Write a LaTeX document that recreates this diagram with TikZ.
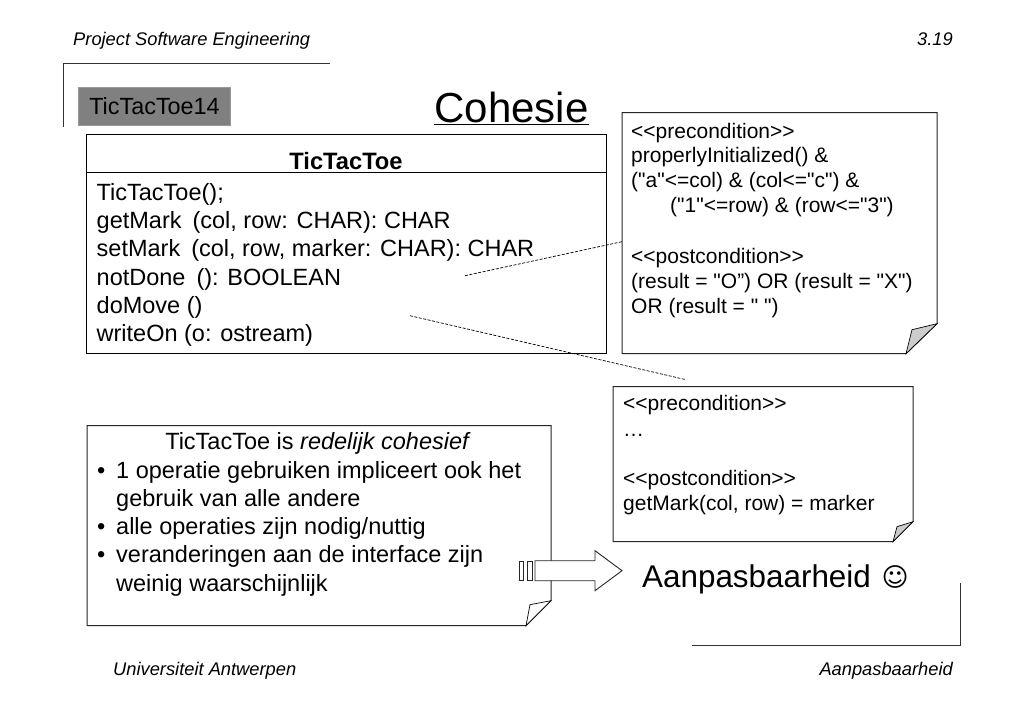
\documentclass[tikz,border=0pt]{standalone}
\usepackage{fontspec}
\usepackage{tikz}
\setmainfont{Liberation Sans}
\newfontfamily\notefont{Liberation Sans}
\newfontfamily\symbfont{DejaVu Sans}
\tikzset{%
	line/.style = {anchor=base west,inner sep=0,font=\fontsize{23.5}{28}\selectfont},
	noteline/.style = {anchor=base west,inner sep=0,font=\notefont\fontsize{21}{25}\selectfont},
	foot/.style = {inner sep=0,font=\fontsize{18.3}{22}\selectfont\itshape},
	frameline/.style = {draw=black!80,line width=.9},
	notebox/.style = {draw=black!85,fill=white,line width=1},
	fold/.style = {draw=black,fill=#1,line width=.7},
	link/.style = {draw=black,dash pattern=on 3pt off 1.5pt,line width=.7},
	bigarrow/.style = {draw=black!85,fill=white,line width=.9}%
}

\begin{document}
\begin{tikzpicture}[x=1pt,y=-1pt]
		\useasboundingbox(0,-.7)rectangle(1023,707.3);
		
		\draw[frameline](330,63)--(63,63)--(63,126);
		\draw[frameline](692,645)--(960,645)--(960,582);
		\node(head)[foot,anchor=base west]at(73,45){Project Software Engineering};
		\node(page)[foot,anchor=base east]at(953,45){3.19};
		\node(uni)[foot,anchor=base west]at(113,675){Universiteit Antwerpen};
		\node(topic)[foot,anchor=base east]at(953,675){Aanpasbaarheid};
		
		\node(version)[fill=black!50,draw=black!40,minimum width=152,minimum height=38,inner sep=0,font=\fontsize{23.4}{28}\selectfont]at(154.5,105.5){TicTacToe14};
		\node(title)[anchor=base,inner sep=0,font=\fontsize{42}{48}\selectfont]at(511.5,122){\underline{Cohesie}};
		
		% class
		\draw[draw=black,line width=1](86.5,134)rectangle(606,353);
		\draw[draw=black,line width=1](86.5,172)--(606,172);
		\node(class)[anchor=base,inner sep=0,font=\fontsize{23.7}{28}\selectfont\bfseries]at(346,169){TicTacToe};
		\node(op1)[line]at(96.5,200){TicTacToe();};
		\node(op2)[line]at(96.5,228){getMark\hspace{11pt}(col, row: CHAR): CHAR};
		\node(op3)[line]at(96.5,256){setMark\hspace{11pt}(col, row, marker: CHAR): CHAR};
		\node(op4)[line]at(96.5,285){notDone\hspace{11pt}(): BOOLEAN};
		\node(op5)[line]at(96.5,313){doMove ()};
		\node(op6)[line]at(96.5,341){writeOn (o: ostream)};
		
		% notes
		\draw[notebox](622,112)--(937,112)--(937,323)--(906,353)--(622,353)--cycle;
		\draw[fold=black!20](937,323)--(912,329)--(906,353)--cycle;
		\node(pre1)[noteline]at(631,138){<<precondition>>};
		\node(pre2)[noteline]at(631,162){properlyInitialized() \&};
		\node(pre3)[noteline]at(631,187){("a"<=col) \& (col<="c") \&};
		\node(pre4)[noteline]at(670,212){("1"<=row) \& (row<="3")};
		\node(post1)[noteline]at(631,263){<<postcondition>>};
		\node(post2)[noteline]at(631,288){(result = "O”) OR (result = "X")};
		\node(post3)[noteline]at(631,313){OR (result = " ")};
		
		\draw[notebox](613,386)--(913,386)--(913,521)--(893,541)--(613,541)--cycle;
		\draw[fold=black!20](913,521)--(897,526)--(893,541)--cycle;
		\node(pre5)[noteline]at(623,410){<<precondition>>};
		\node(pre6)[noteline]at(623,436){…};
		\node(post4)[noteline]at(623,485){<<postcondition>>};
		\node(post5)[noteline]at(623,510){getMark(col, row) = marker};
		
		\draw[notebox](87,425)--(551,425)--(551,600)--(526,625)--(87,625)--cycle;
		\draw[fold=white](551,600)--(530,604)--(526,625)--cycle;
		\node(verdict)[line,anchor=base]at(318,449){TicTacToe is \textit{redelijk cohesief}};
		\node(b1)[line]at(97,478){•};
		\node(t1)[line]at(116,478){1 operatie gebruiken impliceert ook het};
		\node(t1b)[line]at(116,506){gebruik van alle andere};
		\node(b2)[line]at(97,534){•};
		\node(t2)[line]at(116,534){alle operaties zijn nodig/nuttig};
		\node(b3)[line]at(97,562){•};
		\node(t3)[line]at(116,562){veranderingen aan de interface zijn};
		\node(t3b)[line]at(116,591){weinig waarschijnlijk};
		
		% dashed links
		\coordinate(from1)at(465,275);
		\coordinate(to1)at(622,241);
		\coordinate(from2)at(410,315);
		\coordinate(to2)at(686,379);
		\draw[link](from1)--(to1);
		\draw[link](from2)--(to2);
		
		% striped arrow
		\draw[bigarrow](519,561)rectangle(523,580);
		\draw[bigarrow](527,561)rectangle(532,580);
		\draw[bigarrow](535,560)--(595,560)--(595,550)--(622,570)--(595,590)--(595,580)--(535,580)--cycle;
		\node(result)[line,font=\fontsize{31.4}{36}\selectfont]at(642,587){Aanpasbaarheid};
		\node(smile)[line,font=\symbfont\fontsize{26}{30}\selectfont]at(881.5,586){☺};
		\end{tikzpicture}
\end{document}
